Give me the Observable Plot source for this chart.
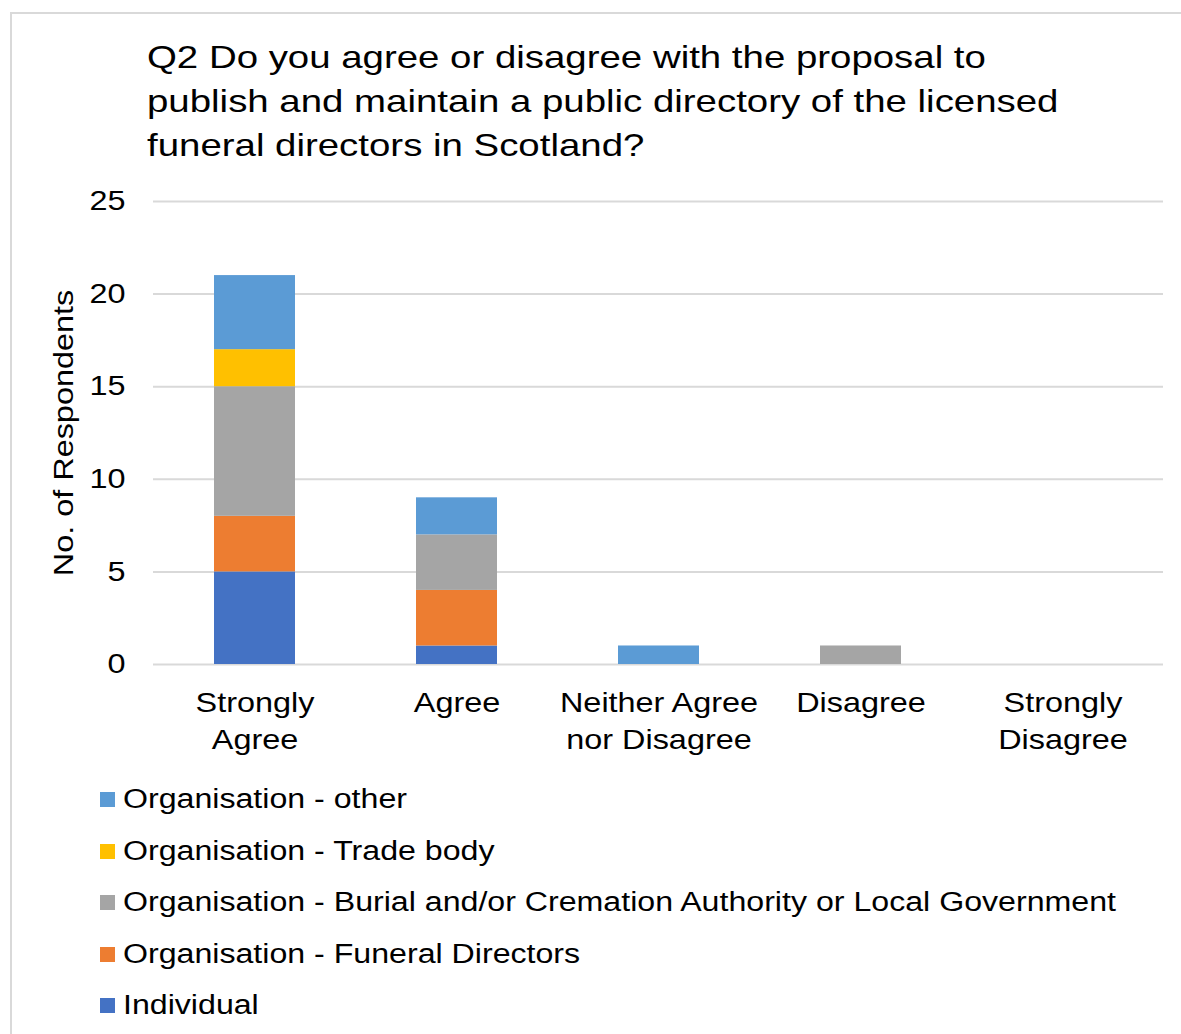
<!DOCTYPE html>
<html>
<head>
<meta charset="utf-8">
<script src="https://cdn.jsdelivr.net/npm/d3@7"></script>
<script src="https://cdn.jsdelivr.net/npm/@observablehq/plot@0.6"></script>
<style>
  html, body { margin: 0; padding: 0; background: #fff; }
  body { width: 1181px; height: 1034px; position: relative; overflow: hidden;
         font-family: "Liberation Sans", Arial, sans-serif; color: #000; }
  #frame { position: absolute; left: 10px; top: 12px; width: 1200px; height: 1100px;
           border-top: 2px solid #d9d9d9; border-left: 2px solid #d9d9d9; box-sizing: border-box; }
  #title { position: absolute; left: 147px; top: 35px; font-size: 32px; line-height: 44px; white-space: nowrap;
           transform: scale(1.2, 1); transform-origin: left top; }
  #chart { position: absolute; left: 0; top: 170px; }
  #legend { position: absolute; left: 100px; top: 774px; }
  .item { height: 51.5px; display: flex; align-items: center; font-size: 27px; white-space: nowrap; }
  .sw { width: 15px; height: 15px; margin-right: 8px; flex: none; }
  .lt { display: inline-block; transform: scale(1.19, 1); transform-origin: left center; }
</style>
</head>
<body>
<div id="frame"></div>
<div id="title">Q2 Do you agree or disagree with the proposal to<br>publish and maintain a public directory of the licensed<br>funeral directors in Scotland?</div>
<div id="chart"></div>
<div id="legend"></div>
<script>
const categories = ["Strongly Agree", "Agree", "Neither Agree nor Disagree", "Disagree", "Strongly Disagree"];
const categoryLabels = ["Strongly\nAgree", "Agree", "Neither Agree\nnor Disagree", "Disagree", "Strongly\nDisagree"];
// stacking order: bottom to top
const series = ["Individual", "Organisation - Funeral Directors", "Organisation - Burial and/or Cremation Authority or Local Government", "Organisation - Trade body", "Organisation - other"];
const colors = ["#4472C4", "#ED7D31", "#A5A5A5", "#FFC000", "#5B9BD5"];
const individual = [5, 1, 0, 0, 0];
const funeralDirectors = [3, 3, 0, 0, 0];
const burialCremation = [7, 3, 0, 1, 0];
const tradeBody = [2, 0, 0, 0, 0];
const other = [4, 2, 1, 0, 0];
const yTicks = [0, 5, 10, 15, 20, 25];
const legendOrder = ["Organisation - other", "Organisation - Trade body", "Organisation - Burial and/or Cremation Authority or Local Government", "Organisation - Funeral Directors", "Individual"];

const valuesBySeries = [individual, funeralDirectors, burialCremation, tradeBody, other];
const data = [];
series.forEach((s, i) => categories.forEach((c, j) => data.push({category: c, series: s, value: valuesBySeries[i][j]})));

const labelMap = new Map(categories.map((c, i) => [c, categoryLabels[i]]));

const chart = Plot.plot({
  width: 1181,
  height: 600,
  marginLeft: 153,
  marginRight: 18,
  marginTop: 31,
  marginBottom: 106,
  style: { fontFamily: "Liberation Sans, Arial, sans-serif", color: "#000", background: "transparent" },
  x: { domain: categories, paddingInner: 0.6, paddingOuter: 0.3 },
  y: { domain: [0, 25] },
  color: { domain: series, range: colors },
  marks: [
    Plot.gridY(yTicks, { stroke: "#d9d9d9", strokeOpacity: 1, strokeWidth: 2 }),
    Plot.barY(data, { x: "category", y: "value", fill: "series", order: series }),
    Plot.axisY(yTicks, { tickSize: 0, tickPadding: 28, fontSize: 27, label: null }),
    Plot.axisX({ tickSize: 0, tickPadding: 21, fontSize: 27, lineHeight: 1.37, label: null, tickFormat: d => labelMap.get(d) }),
    Plot.text(["No. of Respondents"], { frameAnchor: "left", dx: -89, rotate: -90, textAnchor: "middle", lineAnchor: "middle", fontSize: 27, fill: "#000" })
  ]
});
// the reference's glyphs are about 1.2x wider than Liberation Sans along the reading direction
chart.querySelectorAll("text").forEach(t => {
  const tr = t.getAttribute("transform");
  if (tr) t.setAttribute("transform", tr + " scale(1.2,1)");
});
document.getElementById("chart").appendChild(chart);

const legend = document.getElementById("legend");
legendOrder.forEach(s => {
  const row = document.createElement("div");
  row.className = "item";
  const sw = document.createElement("span");
  sw.className = "sw";
  sw.style.background = colors[series.indexOf(s)];
  const t = document.createElement("span");
  t.className = "lt";
  t.textContent = s;
  row.appendChild(sw); row.appendChild(t);
  legend.appendChild(row);
});
</script>
</body>
</html>
